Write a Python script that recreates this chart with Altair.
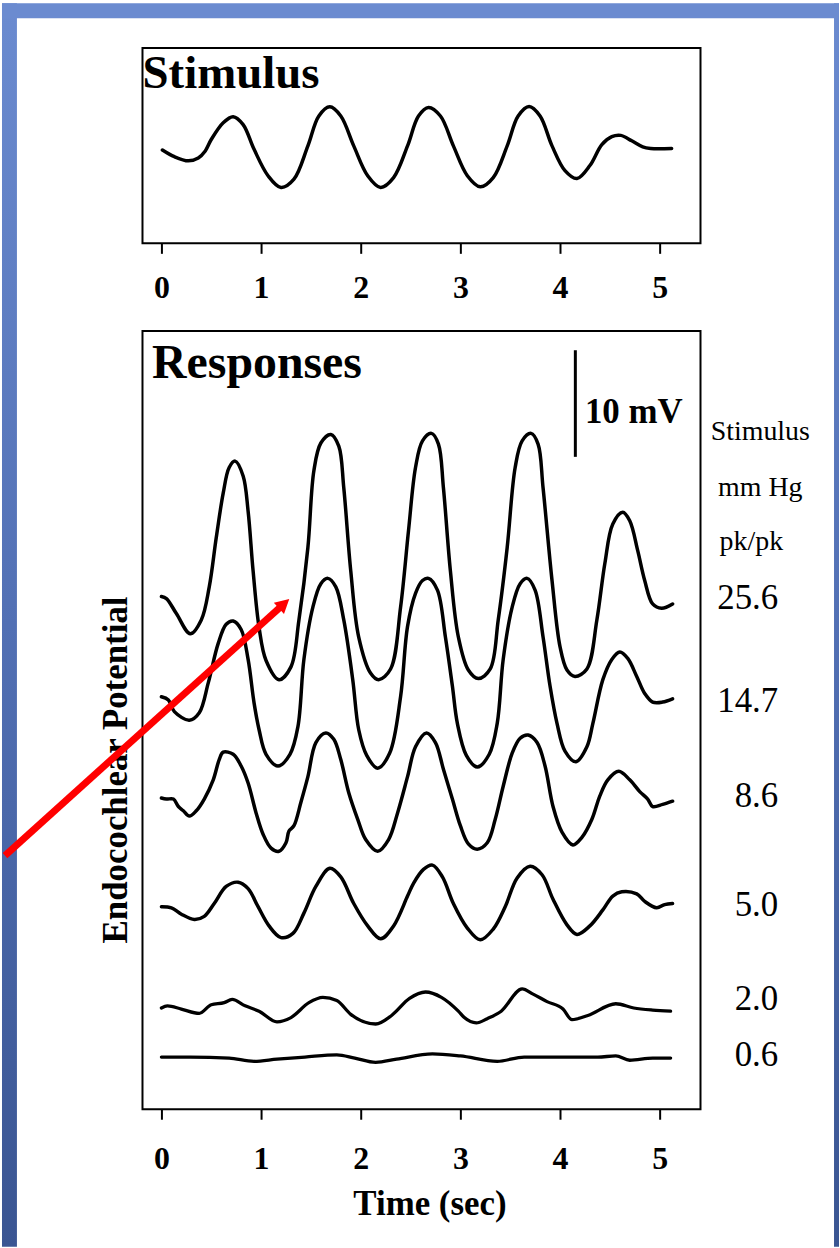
import altair as alt
import pandas as pd

SERIF = "Liberation Serif"

# ---------------- time axis (sec) ----------------
TIME_DOMAIN = [-0.19, 5.41]
TIME_TICKS = [0, 1, 2, 3, 4, 5]

# ---------------- stimulus waveform (mm Hg) ----------------
stim_t = [0.01, 0.13, 0.27, 0.37, 0.44, 0.50, 0.62, 0.72, 0.82, 0.93,
          1.07, 1.20, 1.33, 1.47, 1.58, 1.69, 1.80, 1.93, 2.07, 2.20,
          2.33, 2.47, 2.58, 2.68, 2.80, 2.93, 3.07, 3.20, 3.33, 3.47,
          3.58, 3.69, 3.80, 3.92, 4.05, 4.17, 4.30, 4.42, 4.52, 4.61,
          4.72, 4.83, 4.91, 5.12]
stim_p = [-0.2, -2.3, -3.6, -2.7, -0.5, 3.1, 8.4, 10.3, 7.8, 0.0,
          -8.3, -12.0, -9.4, 1.1, 10.5, 13.4, 10.5, 1.1, -8.3, -12.0,
          -8.9, 1.1, 10.5, 13.2, 10.5, 1.1, -8.3, -11.8, -8.9, 1.1,
          10.5, 13.5, 10.5, 1.1, -6.7, -9.2, -5.1, 1.5, 4.0, 4.4,
          2.7, 0.8, 0.3, 0.3]
STIM_DOMAIN = [-29.6, 31.9]

# ---------------- responses: EP change (mV) per stimulus level ----------------
levels = ["25.6", "14.7", "8.6", "5.0", "2.0", "0.6"]
trace_offset = [48.1, 38.6, 29.2, 19.0, 9.5, 4.9]      # stacking of the traces, mV
level_label_y = [48.0, 38.3, 29.4, 19.2, 10.3, 5.1]    # level labels, mV

ep_25_6 = [(0.00, 0.0), (0.05, -0.2), (0.15, -1.6), (0.29, -3.5), (0.40, -2.2),
           (0.48, 0.9), (0.55, 5.5), (0.62, 9.7), (0.68, 12.1), (0.74, 12.7),
           (0.82, 11.3), (0.87, 8.0), (0.92, 2.4), (0.98, -2.9), (1.05, -6.0),
           (1.18, -7.8), (1.30, -6.6), (1.38, -2.2), (1.47, 4.6), (1.53, 11.8),
           (1.60, 14.4), (1.70, 15.2), (1.78, 14.1), (1.83, 10.2), (1.90, 2.4),
           (1.98, -3.8), (2.10, -7.2), (2.18, -7.8), (2.30, -6.8), (2.40, -1.0),
           (2.48, 6.2), (2.55, 12.1), (2.62, 14.6), (2.71, 15.3), (2.78, 14.3),
           (2.83, 10.2), (2.90, 2.4), (2.98, -3.8), (3.08, -6.9), (3.18, -7.7),
           (3.30, -6.8), (3.38, -2.2), (3.47, 4.6), (3.55, 12.1), (3.62, 14.6),
           (3.71, 15.3), (3.78, 14.3), (3.83, 10.2), (3.92, 1.5), (4.00, -4.7),
           (4.07, -6.9), (4.15, -7.5), (4.27, -6.8), (4.37, -2.2), (4.45, 3.1),
           (4.53, 6.8), (4.63, 7.9), (4.70, 7.1), (4.78, 4.3), (4.85, 1.5),
           (4.93, -0.7), (5.02, -1.1), (5.13, -0.7)]

ep_14_7 = [(0.00, 0.1), (0.07, -0.2), (0.13, -1.3), (0.28, -2.1), (0.38, -1.4),
           (0.47, 1.4), (0.57, 5.1), (0.65, 6.9), (0.72, 7.2), (0.80, 6.4),
           (0.87, 3.6), (0.93, -0.5), (0.98, -3.0), (1.05, -5.3), (1.17, -6.4),
           (1.29, -5.3), (1.37, -2.7), (1.43, 3.6), (1.52, 8.5), (1.60, 10.7),
           (1.67, 11.2), (1.75, 10.4), (1.83, 7.3), (1.92, 1.7), (1.98, -3.0),
           (2.06, -5.4), (2.17, -6.6), (2.29, -5.2), (2.40, 0.1), (2.47, 6.7),
           (2.55, 9.8), (2.62, 11.0), (2.68, 11.2), (2.77, 10.1), (2.85, 5.7),
           (2.92, 1.1), (2.97, -2.4), (3.06, -5.4), (3.17, -6.5), (3.29, -5.3),
           (3.37, -2.4), (3.43, 3.6), (3.52, 8.5), (3.60, 10.7), (3.67, 11.2),
           (3.75, 10.1), (3.83, 5.7), (3.90, 1.1), (3.97, -2.4), (4.05, -5.0),
           (4.16, -6.0), (4.27, -4.6), (4.33, -2.4), (4.43, 1.7), (4.52, 3.6),
           (4.60, 4.3), (4.68, 3.7), (4.77, 2.0), (4.85, 0.4), (4.93, -0.4),
           (5.03, -0.4), (5.13, -0.1)]

ep_8_6 = [(0.00, 0.0), (0.05, -0.1), (0.12, -0.1), (0.17, -0.8), (0.22, -1.2),
          (0.28, -1.7), (0.35, -1.2), (0.43, -0.1), (0.52, 1.7), (0.58, 3.6),
          (0.62, 4.3), (0.72, 4.1), (0.80, 3.0), (0.87, 1.4), (0.95, -1.4),
          (1.02, -3.4), (1.10, -4.7), (1.18, -5.0), (1.25, -4.2), (1.28, -3.1),
          (1.33, -2.6), (1.40, -0.4), (1.47, 2.0), (1.55, 5.2), (1.65, 6.1),
          (1.73, 5.5), (1.80, 3.6), (1.88, 0.5), (1.97, -2.0), (2.05, -3.9),
          (2.17, -5.0), (2.28, -3.9), (2.37, -1.4), (2.47, 2.0), (2.55, 4.8),
          (2.66, 6.1), (2.75, 5.2), (2.83, 2.7), (2.92, -0.1), (3.00, -2.6),
          (3.08, -4.3), (3.17, -4.8), (3.27, -4.2), (3.35, -2.0), (3.43, 1.1),
          (3.52, 4.2), (3.60, 5.6), (3.68, 5.9), (3.77, 5.2), (3.85, 3.0),
          (3.93, -0.8), (4.02, -3.2), (4.13, -4.4), (4.22, -3.7), (4.32, -2.0),
          (4.40, 0.2), (4.48, 1.7), (4.59, 2.5), (4.70, 1.7), (4.80, 0.6),
          (4.88, -0.1), (4.93, -0.8), (5.03, -0.6), (5.13, -0.3)]

ep_5_0 = [(0.00, 0.0), (0.10, -0.1), (0.20, -0.7), (0.33, -1.2), (0.43, -0.9),
          (0.53, 0.3), (0.65, 1.9), (0.77, 2.3), (0.87, 1.7), (0.97, 0.0),
          (1.08, -1.8), (1.20, -2.9), (1.32, -2.5), (1.43, -0.6), (1.55, 1.9),
          (1.69, 3.6), (1.80, 2.8), (1.93, 0.3), (2.07, -1.8), (2.20, -3.0),
          (2.33, -1.8), (2.47, 1.0), (2.53, 2.2), (2.63, 3.5), (2.72, 3.9),
          (2.82, 2.8), (2.93, 0.3), (3.07, -2.0), (3.20, -3.1), (3.33, -2.1),
          (3.45, 0.0), (3.57, 2.7), (3.70, 3.8), (3.82, 3.0), (3.93, 0.7),
          (4.07, -1.7), (4.17, -2.6), (4.30, -1.8), (4.43, -0.3), (4.53, 1.0),
          (4.62, 1.4), (4.77, 1.2), (4.85, 0.5), (4.97, -0.1), (5.05, 0.2),
          (5.13, 0.3)]

ep_2_0 = [(0.00, 0.0), (0.06, 0.2), (0.20, -0.1), (0.38, -0.5), (0.50, 0.3),
          (0.63, 0.5), (0.71, 0.8), (0.84, 0.2), (0.98, -0.3), (1.16, -1.3),
          (1.30, -0.9), (1.48, 0.5), (1.62, 1.0), (1.76, 0.7), (1.90, -0.6),
          (2.15, -1.5), (2.31, -0.7), (2.49, 0.9), (2.65, 1.5), (2.81, 1.0),
          (2.98, -0.3), (3.04, -0.9), (3.16, -1.4), (3.27, -1.0), (3.41, -0.3),
          (3.62, 1.8), (3.73, 1.3), (3.87, 0.6), (4.03, -0.1), (4.12, -1.1),
          (4.28, -0.7), (4.56, 0.4), (4.74, 0.0), (4.93, -0.2), (5.11, -0.3)]

ep_0_6 = [(0.00, 0.0), (0.29, 0.0), (0.68, -0.1), (0.93, -0.4), (1.16, -0.2),
          (1.44, 0.0), (1.76, 0.2), (1.94, -0.1), (2.15, -0.5), (2.36, -0.2),
          (2.72, 0.3), (3.00, 0.1), (3.37, -0.4), (3.64, 0.0), (4.01, 0.0),
          (4.38, 0.0), (4.56, 0.1), (4.70, -0.3), (4.93, -0.1), (5.11, -0.1)]

traces = [ep_25_6, ep_14_7, ep_8_6, ep_5_0, ep_2_0, ep_0_6]
smooth_levels = ["25.6", "14.7", "8.6", "5.0"]   # large, smooth responses
EP_DOMAIN = [0, 73.0]

# 10 mV calibration bar
bar_t = 4.154
bar_from, bar_to = 61.2, 71.2

# level header lines at the right of the traces
header_text = ["Stimulus", "mm Hg", "pk/pk"]
header_t = [6.01, 6.01, 5.92]
header_y = [63.5, 58.3, 53.2]
level_label_t = 6.19

# red pointer arrow (tail, shaft end, tip)
arrow_tail = (-1.57, 23.8)
arrow_end = (1.224, 47.36)
arrow_tip = (1.283, 47.87)
arrow_angle = 47.9

# ---------------- tables ----------------
stim_df = pd.DataFrame({"t": stim_t, "p": stim_p})

rows = []
for lvl, off, pts in zip(levels, trace_offset, traces):
    for t, v in pts:
        rows.append({"level": lvl, "t": t, "v": off + v})
resp_df = pd.DataFrame(rows)
big_df = resp_df[resp_df["level"].isin(smooth_levels)]
small_df = resp_df[~resp_df["level"].isin(smooth_levels)]

level_df = pd.DataFrame({"t": [level_label_t] * len(levels), "v": level_label_y, "label": levels})
header_df = pd.DataFrame({"t": header_t, "v": header_y, "label": header_text})
bar_df = pd.DataFrame({"t": [bar_t], "v": [bar_from], "v2": [bar_to]})
bar_label_df = pd.DataFrame({"t": [4.25], "v": [64.4], "label": ["10 mV"]})
resp_title_df = pd.DataFrame({"t": [-0.094], "v": [68.55], "label": ["Responses"]})
stim_title_df = pd.DataFrame({"t": [-0.19], "p": [19.3], "label": ["Stimulus"]})
arrow_df = pd.DataFrame({"t": [arrow_tail[0]], "v": [arrow_tail[1]],
                         "t2": [arrow_end[0]], "v2": [arrow_end[1]]})
head_df = pd.DataFrame({"t": [arrow_tip[0]], "v": [arrow_tip[1]]})
one = pd.DataFrame({"k": [0]})

# ---------------- slide frame (blue border) ----------------
frame_grad = alt.LinearGradient(
    gradient="linear",
    stops=[alt.GradientStop(color="#6b8bd0", offset=0),
           alt.GradientStop(color="#5270b4", offset=0.5),
           alt.GradientStop(color="#3a5592", offset=1)],
    x1=0, x2=0, y1=0, y2=1,
)
left_band = alt.Chart(one).mark_rect(color=frame_grad).encode(
    x=alt.value(-141), x2=alt.value(-126), y=alt.value(-45), y2=alt.value(1203))
right_band = alt.Chart(one).mark_rect(color=frame_grad).encode(
    x=alt.value(694), x2=alt.value(699), y=alt.value(-45), y2=alt.value(1203))
top_band = alt.Chart(one).mark_rect(color="#6b8bd0").encode(
    x=alt.value(-141), x2=alt.value(699), y=alt.value(-45), y2=alt.value(-30))

# ---------------- stimulus panel ----------------
x_stim = alt.X("t:Q", scale=alt.Scale(domain=TIME_DOMAIN, nice=False, zero=False),
               axis=alt.Axis(values=TIME_TICKS, title=None, labelPadding=19))
y_stim = alt.Y("p:Q", scale=alt.Scale(domain=STIM_DOMAIN, nice=False, zero=False), axis=None)

stim_line = alt.Chart(stim_df).mark_line(
    color="black", strokeWidth=3.5, interpolate="catmull-rom", strokeJoin="round", strokeCap="round"
).encode(x=x_stim, y=y_stim)

stim_title = alt.Chart(stim_title_df).mark_text(
    align="left", baseline="alphabetic", font=SERIF, fontWeight="bold", fontSize=47, color="black"
).encode(x=x_stim, y=y_stim, text="label:N")

stim_panel = alt.layer(left_band, right_band, top_band, stim_line, stim_title).properties(
    width=560, height=196)

# ---------------- responses panel ----------------
x_resp = alt.X("t:Q", scale=alt.Scale(domain=TIME_DOMAIN, nice=False, zero=False),
               axis=alt.Axis(values=TIME_TICKS, title="Time (sec)", labelPadding=24,
                             titleX=288, titleY=106, titleAlign="center",
                             titleBaseline="alphabetic"))
y_resp = alt.Y("v:Q", scale=alt.Scale(domain=EP_DOMAIN, nice=False, zero=False),
               axis=alt.Axis(title="Endocochlear Potential", labels=False, ticks=False,
                             domain=False, grid=False, titleX=-16, titleY=440,
                             titleAngle=270, titleAlign="center", titleBaseline="alphabetic"))

big_lines = alt.Chart(big_df).mark_line(
    color="black", strokeWidth=3.5, interpolate="catmull-rom", strokeJoin="round", strokeCap="round"
).encode(x=x_resp, y=y_resp, detail="level:N")

small_lines = alt.Chart(small_df).mark_line(
    color="black", strokeWidth=3.3, interpolate="monotone", strokeJoin="round", strokeCap="round"
).encode(x=x_resp, y=y_resp, detail="level:N")

bar = alt.Chart(bar_df).mark_rule(color="black", strokeWidth=3).encode(
    x=x_resp, y=y_resp, y2="v2:Q")

bar_label = alt.Chart(bar_label_df).mark_text(
    align="left", baseline="alphabetic", font=SERIF, fontWeight="bold", fontSize=35, color="black"
).encode(x=x_resp, y=y_resp, text="label:N")

resp_title = alt.Chart(resp_title_df).mark_text(
    align="left", baseline="alphabetic", font=SERIF, fontWeight="bold", fontSize=48, color="black"
).encode(x=x_resp, y=y_resp, text="label:N")

level_labels = alt.Chart(level_df).mark_text(
    align="right", baseline="middle", font=SERIF, fontSize=35, color="black"
).encode(x=x_resp, y=y_resp, text="label:N")

header_labels = alt.Chart(header_df).mark_text(
    align="center", baseline="middle", font=SERIF, fontSize=28, color="black"
).encode(x=x_resp, y=y_resp, text="label:N")

arrow_shaft = alt.Chart(arrow_df).mark_rule(color="#ff0000", strokeWidth=7).encode(
    x=x_resp, y=y_resp, x2="t2:Q", y2="v2:Q")

arrow_head = alt.Chart(head_df).mark_point(
    shape="M0,0L0.95,1.75L-0.95,1.75Z", filled=True, color="#ff0000", opacity=1,
    size=256, angle=arrow_angle
).encode(x=x_resp, y=y_resp)

resp_panel = alt.layer(
    big_lines, small_lines, bar, bar_label, resp_title, header_labels, level_labels,
    arrow_shaft, arrow_head
).properties(width=560, height=781)

chart = alt.vconcat(stim_panel, resp_panel, spacing=88, bounds="flush", padding=0).configure(
    background="white", font=SERIF
).configure_view(
    stroke="black", strokeWidth=2
).configure_axis(
    domain=False, grid=False, tickColor="black", tickWidth=2, tickSize=10,
    labelFont=SERIF, labelFontWeight="bold", labelFontSize=32, labelColor="black",
    labelFlush=False, labelOverlap=False,
    titleFont=SERIF, titleFontWeight="bold", titleFontSize=35, titleColor="black"
)

chart.save("out.html", embed_options={"renderer": "svg", "actions": False})
